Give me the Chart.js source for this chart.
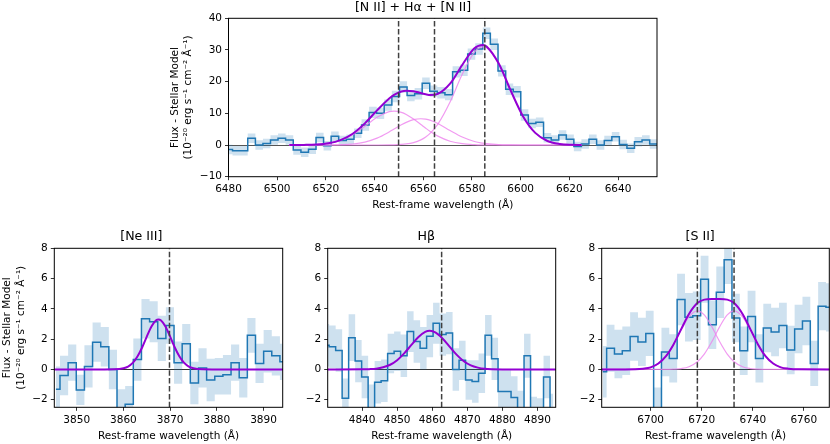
<!DOCTYPE html>
<html>
<head>
<meta charset="utf-8">
<script src="https://cdn.jsdelivr.net/npm/chart.js@4.4.0/dist/chart.umd.min.js"></script>
<style>
  html, body { margin: 0; padding: 0; background: #fff; }
  body { width: 830px; height: 444px; position: relative; overflow: hidden; }
  canvas { position: absolute; }
</style>
</head>
<body>
<canvas id="topPanel" width="492" height="213" style="left:169px;top:0px"></canvas>
<canvas id="neiiiPanel" width="287" height="215" style="left:0px;top:229px"></canvas>
<canvas id="hbPanel" width="263" height="215" style="left:297px;top:229px"></canvas>
<canvas id="siiPanel" width="259" height="215" style="left:571px;top:229px"></canvas>
<script>
// ---- [N II] + Halpha + [N II] ----
const topWave = [6480.1, 6483.2, 6486.3, 6489.5, 6492.6, 6495.7, 6498.8, 6501.9, 6505.0, 6508.2,
  6511.3, 6514.4, 6517.5, 6520.6, 6523.7, 6526.8, 6530.0, 6533.1, 6536.2, 6539.3,
  6542.4, 6545.5, 6548.7, 6551.8, 6554.9, 6558.0, 6561.1, 6564.2, 6567.3, 6570.5,
  6573.6, 6576.7, 6579.8, 6582.9, 6586.0, 6589.1, 6592.3, 6595.4, 6598.5, 6601.6,
  6604.7, 6607.8, 6611.0, 6614.1, 6617.2, 6620.3, 6623.4, 6626.5, 6629.6, 6632.8,
  6635.9, 6639.0, 6642.1, 6645.2, 6648.3, 6651.4, 6654.6, 6657.7];
const topFlux = [-1.4, -1.8, -1.8, 2.1, 0.0, 0.5, 1.6, 2.1, 1.6, -1.6,
  -2.3, -1.3, 2.4, -0.2, 2.8, 1.4, 1.8, 3.7, 6.3, 10.3,
  10.0, 12.6, 15.3, 18.3, 15.6, 16.2, 19.5, 17.0, 16.5, 15.9,
  23.1, 23.6, 28.7, 30.3, 35.3, 31.8, 23.4, 17.6, 16.8, 9.5,
  6.8, 7.2, 2.3, 1.6, 3.2, 1.8, -0.5, 0.3, 1.8, 0.0,
  1.4, 2.6, 0.2, -1.0, 1.0, 1.6, 0.3, 0.3];
const topErr = [1.5, 1.5, 1.5, 1.5, 1.5, 1.5, 1.5, 1.5, 1.5, 1.5,
  1.5, 1.5, 1.5, 1.5, 1.5, 1.5, 1.5, 1.5, 1.8, 1.8,
  1.8, 1.8, 1.8, 1.8, 1.8, 1.8, 1.8, 1.8, 1.8, 1.8,
  1.8, 1.8, 1.8, 1.8, 1.8, 1.8, 1.8, 1.8, 1.8, 1.8,
  1.5, 1.5, 1.5, 1.5, 1.5, 1.5, 1.5, 1.5, 1.5, 1.5,
  1.5, 1.5, 1.5, 1.5, 1.5, 1.5, 1.5, 1.5];
const topModelWave = [6505, 6511, 6516, 6521, 6526, 6531, 6536, 6541, 6546, 6548,
  6551, 6553, 6556, 6559, 6561, 6563, 6566, 6571, 6576, 6581,
  6584.5, 6586, 6591, 6596, 6601, 6606, 6611, 6616, 6621, 6625];
const topModel = [0, 0.04, 0.16, 0.55, 1.54, 3.56, 6.83, 10.92, 14.69, 15.80,
  16.87, 17.14, 17.00, 16.41, 16.03, 15.80, 16.15, 19.35, 25.27, 30.56,
  31.61, 31.13, 25.72, 17.04, 9.02, 3.82, 1.28, 0.34, 0.07, 0.02];
const nii6548Model = [0, 0.04, 0.16, 0.53, 1.45, 3.24, 5.90, 8.74, 10.52, 10.70,
  10.31, 9.65, 8.22, 6.49, 5.32, 4.22, 2.80, 1.20, 0.42, 0.12,
  0.04, 0.03, 0, 0, 0, 0, 0, 0, 0, 0];
const haModel = [0, 0, 0, 0.02, 0.09, 0.32, 0.93, 2.17, 4.13, 5.03,
  6.37, 7.15, 8.00, 8.30, 8.17, 7.77, 6.78, 4.58, 2.51, 1.12,
  0.57, 0.41, 0.12, 0.03, 0, 0, 0, 0, 0, 0];
const nii6583Model = [0, 0, 0, 0, 0, 0, 0, 0.01, 0.04, 0.07,
  0.19, 0.34, 0.78, 1.62, 2.54, 3.81, 6.57, 13.57, 22.34, 29.32,
  31.0, 30.69, 25.60, 17.01, 9.02, 3.82, 1.28, 0.34, 0.07, 0.02];
const topLines = [6549.86, 6564.61, 6585.27];
const topXRange = [6480, 6656];
const topYRange = [-10, 40];
const topXTicks = [6480, 6500, 6520, 6540, 6560, 6580, 6600, 6620, 6640];
const topYTicks = [-10, 0, 10, 20, 30, 40];

// ---- [Ne III] ----
const neWave = [3845.55, 3847.29, 3849.03, 3850.78, 3852.52, 3854.27, 3856.01, 3857.75, 3859.50, 3861.24,
  3862.99, 3864.73, 3866.47, 3868.22, 3869.96, 3871.71, 3873.45, 3875.19, 3876.94, 3878.68,
  3880.43, 3882.17, 3883.91, 3885.66, 3887.40, 3889.15, 3890.89, 3892.63, 3894.38];
const neFlux = [-1.3, -0.4, 0.45, -1.35, 0.2, 1.8, 1.5, 0.0, -2.8, -2.3,
  0.65, 3.35, 3.15, 2.05, 2.9, 0.45, 1.7, -0.9, 0.1, -0.7,
  -0.45, -0.35, 0.45, -0.55, 2.25, 0.4, 1.2, 0.9, 0.5];
const neErr = [1.5, 1.3, 1.2, 1.0, 1.4, 1.3, 1.3, 1.3, 1.5, 1.2,
  1.4, 1.3, 1.35, 1.5, 1.2, 1.4, 1.3, 1.4, 1.3, 1.4,
  1.2, 1.3, 1.2, 1.3, 1.15, 1.3, 1.4, 1.3, 1.2];
const neModelWave = [3845, 3856, 3858, 3860, 3861, 3862, 3863, 3864, 3865, 3866, 3867, 3867.5,
  3868, 3869, 3870, 3871, 3872, 3873, 3874, 3875, 3877, 3879, 3895];
const neModel = [0, 0, 0.01, 0.08, 0.19, 0.43, 0.85, 1.45, 2.17, 2.84, 3.25, 3.3,
  3.25, 2.84, 2.17, 1.45, 0.85, 0.43, 0.19, 0.08, 0.01, 0, 0];
const neLines = [3869.86];
const neXRange = [3845.2, 3894.1];
const neXTicks = [3850, 3860, 3870, 3880, 3890];

// ---- Hbeta ----
const hbWave = [4829.69, 4831.54, 4833.39, 4835.24, 4837.10, 4838.95, 4840.80, 4842.65, 4844.50, 4846.36,
  4848.21, 4850.06, 4851.91, 4853.76, 4855.62, 4857.47, 4859.32, 4861.17, 4863.02, 4864.88,
  4866.73, 4868.58, 4870.43, 4872.28, 4874.14, 4875.99, 4877.84, 4879.69, 4881.54, 4883.40,
  4885.25, 4887.10, 4888.95, 4890.80, 4892.66, 4894.51];
const hbFlux = [1.6, 1.5, 1.25, -1.9, 2.1, 0.55, -0.5, -2.6, -0.85, -0.75,
  1.05, 1.2, 0.9, 2.5, 1.85, 1.4, 2.2, 3.05, 2.3, 2.4,
  0.0, 0.6, -0.7, -0.8, -0.25, 2.25, 0.7, -1.45, -1.45, -1.85,
  -2.9, 0.9, -3.2, -3.3, -0.5, -3.0];
const hbErr = [1.4, 1.4, 1.4, 1.3, 1.55, 1.4, 1.4, 1.6, 1.4, 1.4,
  1.3, 1.3, 1.4, 1.35, 1.4, 1.4, 1.4, 1.35, 1.4, 1.4,
  1.4, 1.3, 1.3, 1.4, 1.3, 1.35, 1.4, 1.4, 1.4, 1.4,
  1.5, 1.45, 1.4, 1.4, 1.4, 1.4];
const hbModelWave = [4830, 4840, 4842, 4844, 4846, 4848, 4850, 4852, 4854, 4856, 4858, 4859.3,
  4861, 4863, 4865, 4867, 4869, 4871, 4873, 4875, 4877, 4880, 4896];
const hbModel = [0, 0.01, 0.02, 0.05, 0.14, 0.31, 0.61, 1.06, 1.60, 2.13, 2.48, 2.55,
  2.43, 2.03, 1.49, 0.96, 0.54, 0.27, 0.12, 0.04, 0.01, 0, 0];
const hbLines = [4862.68];
const hbXRange = [4830.2, 4895.2];
const hbXTicks = [4840, 4850, 4860, 4870, 4880, 4890];

// ---- [S II] ----
const siiWave = [6681.20, 6684.27, 6687.34, 6690.41, 6693.48, 6696.55, 6699.62, 6702.69, 6705.76, 6708.83,
  6711.90, 6714.97, 6718.04, 6721.11, 6724.18, 6727.25, 6730.32, 6733.39, 6736.46, 6739.53,
  6742.60, 6745.67, 6748.74, 6751.81, 6754.88, 6757.95, 6761.02, 6764.09, 6767.16, 6770.23];
const siiFlux = [-0.15, 1.4, 1.02, 1.24, 2.18, 1.82, 2.38, -3.0, 1.15, 0.73,
  4.62, 3.45, 3.55, 5.95, 2.95, 5.1, 7.25, 3.4, 1.24, 3.5,
  0.73, 2.73, 2.47, 2.9, 1.29, 2.67, 3.2, 0.4, 4.18, 4.1];
const siiErr = [1.7, 1.55, 1.6, 1.6, 1.6, 1.6, 1.5, 1.8, 1.6, 1.6,
  1.7, 1.6, 1.6, 1.55, 1.6, 1.7, 1.6, 1.6, 1.6, 1.7,
  1.6, 1.6, 1.6, 1.5, 1.6, 1.6, 1.6, 1.5, 1.6, 1.6];
const siiModelWave = [6680, 6690, 6694, 6697, 6700, 6703, 6706, 6709, 6712, 6715, 6718.3, 6721, 6724,
  6725.5, 6727, 6730, 6732.7, 6736, 6739, 6742, 6745, 6748, 6751, 6754, 6758, 6771];
const siiModel = [0, 0, 0.01, 0.05, 0.14, 0.39, 0.88, 1.67, 2.68, 3.66, 4.38, 4.61, 4.65,
  4.65, 4.65, 4.61, 4.38, 3.66, 2.68, 1.67, 0.88, 0.39, 0.14, 0.05, 0.01, 0];
const sii6716Model = [0, 0, 0.01, 0.05, 0.14, 0.39, 0.88, 1.65, 2.62, 3.48, 3.87, 3.60, 2.81,
  2.33, 1.84, 1.01, 0.51, 0.18, 0.06, 0.02, 0, 0, 0, 0, 0, 0];
const sii6731Model = [0, 0, 0, 0, 0, 0, 0, 0.02, 0.06, 0.18, 0.51, 1.01, 1.84,
  2.33, 2.81, 3.60, 3.87, 3.48, 2.62, 1.65, 0.88, 0.39, 0.14, 0.05, 0.01, 0];
const siiLines = [6718.29, 6732.67];
const siiXRange = [6680.8, 6770.0];
const siiXTicks = [6700, 6720, 6740, 6760];

const lowYRange = [-2.5, 8];
const lowYTicks = [-2, 0, 2, 4, 6, 8];

const yTitleLines = ['Flux - Stellar Model', '(10\u207b\u00b2\u2070 erg s\u207b\u00b9 cm\u207b\u00b2 \u00c5\u207b\u00b9)'];

Chart.defaults.font.family = '"DejaVu Sans", sans-serif';
Chart.defaults.font.size = 10.5;
Chart.defaults.color = '#000';
Chart.defaults.animation = false;

function pairs(xs, ys) {
  return xs.map(function (x, i) { return { x: x, y: ys[i] }; });
}

function fmtTick(v) {
  return v < 0 ? '\u2212' + Math.abs(v) : String(v);
}

// black box around the axes, like matplotlib spines
const framePlugin = {
  id: 'frame',
  afterDatasetsDraw(chart) {
    const a = chart.chartArea;
    const ctx = chart.ctx;
    ctx.save();
    ctx.strokeStyle = '#000';
    ctx.lineWidth = 1;
    ctx.strokeRect(a.left, a.top, a.right - a.left, a.bottom - a.top);
    ctx.restore();
  }
};

function drawPanel(id, p) {
  const datasets = [];
  p.lines.forEach(function (w) {
    datasets.push({
      data: [{ x: w, y: p.yRange[0] }, { x: w, y: p.yRange[1] }],
      borderColor: '#404040', borderWidth: 1.5, borderDash: [5.5, 2.4],
      pointRadius: 0, order: 0
    });
  });
  datasets.push({
    data: pairs(p.modelWave, p.model),
    borderColor: '#9400d3', borderWidth: 2, pointRadius: 0,
    cubicInterpolationMode: 'monotone', order: 1
  });
  (p.comps || []).forEach(function (c) {
    datasets.push({
      data: pairs(p.modelWave, c),
      borderColor: 'rgba(238,130,238,0.8)', borderWidth: 1.2, pointRadius: 0,
      cubicInterpolationMode: 'monotone', order: 2
    });
  });
  datasets.push({
    data: pairs(p.wave, p.flux),
    borderColor: '#1f77b4', borderWidth: 1.5, pointRadius: 0,
    stepped: 'middle', order: 3
  });
  // error band: upper edge, then lower edge filled up to it
  datasets.push({
    data: pairs(p.wave, p.flux.map(function (f, i) { return f + p.err[i]; })),
    borderColor: 'rgba(0,0,0,0)', borderWidth: 0, pointRadius: 0,
    stepped: 'middle', fill: false, order: 4
  });
  datasets.push({
    data: pairs(p.wave, p.flux.map(function (f, i) { return f - p.err[i]; })),
    borderColor: 'rgba(0,0,0,0)', borderWidth: 0, pointRadius: 0,
    stepped: 'middle', fill: '-1', backgroundColor: 'rgba(31,119,180,0.22)', order: 5
  });

  new Chart(document.getElementById(id), {
    type: 'line',
    data: { datasets: datasets },
    plugins: [framePlugin],
    options: {
      responsive: false,
      animation: false,
      layout: { autoPadding: false, padding: { left: 0, right: p.padRight, top: 0, bottom: 0 } },
      plugins: {
        legend: { display: false },
        tooltip: { enabled: false },
        title: {
          display: true, text: p.title, color: '#000',
          font: { size: 12.6, weight: 'normal', lineHeight: 1.2 },
          padding: { top: 0, bottom: p.titlePad }
        }
      },
      scales: {
        x: {
          type: 'linear', min: p.xRange[0], max: p.xRange[1],
          afterBuildTicks: function (s) { s.ticks = p.xTicks.map(function (v) { return { value: v }; }); },
          afterFit: function (s) { s.height = p.xAxisH; },
          border: { display: false },
          grid: { drawOnChartArea: false, tickLength: 3.5, tickColor: '#000', tickWidth: 0.8 },
          ticks: { callback: fmtTick, padding: 3, maxRotation: 0, autoSkip: false, color: '#000' },
          title: {
            display: true, text: 'Rest-frame wavelength (\u00c5)', color: '#000',
            font: { size: 10.5, lineHeight: 1.2 }, padding: { top: 0, bottom: 1.5 }
          }
        },
        y: {
          type: 'linear', min: p.yRange[0], max: p.yRange[1],
          afterBuildTicks: function (s) { s.ticks = p.yTicks.map(function (v) { return { value: v }; }); },
          afterFit: function (s) { s.width = p.yAxisW; },
          border: { display: false },
          grid: {
            color: function (c) { return c.tick && c.tick.value === 0 ? p.zeroColor : 'rgba(0,0,0,0)'; },
            lineWidth: 1, tickLength: 3.5, tickColor: '#000', tickWidth: 0.8
          },
          ticks: { callback: fmtTick, padding: 3, autoSkip: false, color: '#000' },
          title: p.yTitle ? {
            display: true, text: yTitleLines, color: '#000',
            font: { size: 10.5, lineHeight: 1.25 }, padding: { top: p.yTitlePad, bottom: 0 }
          } : { display: false }
        }
      }
    }
  });
}

drawPanel('topPanel', {
  title: '[N II] + H\u03b1 + [N II]',
  wave: topWave, flux: topFlux, err: topErr,
  modelWave: topModelWave, model: topModel, comps: [nii6548Model, haModel, nii6583Model],
  lines: topLines, xRange: topXRange, yRange: topYRange, xTicks: topXTicks, yTicks: topYTicks,
  yAxisW: 59.5, xAxisH: 36.3, padRight: 4, titlePad: 3.18, yTitle: true, yTitlePad: 0, zeroColor: '#555'
});
drawPanel('neiiiPanel', {
  title: '[Ne III]',
  wave: neWave, flux: neFlux, err: neErr,
  modelWave: neModelWave, model: neModel,
  lines: neLines, xRange: neXRange, yRange: lowYRange, xTicks: neXTicks, yTicks: lowYTicks,
  yAxisW: 54.3, xAxisH: 36.7, padRight: 4.3, titlePad: 4.18, yTitle: true, yTitlePad: 1.1, zeroColor: '#333'
});
drawPanel('hbPanel', {
  title: 'H\u03b2',
  wave: hbWave, flux: hbFlux, err: hbErr,
  modelWave: hbModelWave, model: hbModel,
  lines: hbLines, xRange: hbXRange, yRange: lowYRange, xTicks: hbXTicks, yTicks: lowYTicks,
  yAxisW: 30.7, xAxisH: 36.7, padRight: 4.3, titlePad: 4.18, yTitle: false, zeroColor: '#333'
});
drawPanel('siiPanel', {
  title: '[S II]',
  wave: siiWave, flux: siiFlux, err: siiErr,
  modelWave: siiModelWave, model: siiModel, comps: [sii6716Model, sii6731Model],
  lines: siiLines, xRange: siiXRange, yRange: lowYRange, xTicks: siiXTicks, yTicks: lowYTicks,
  yAxisW: 30.7, xAxisH: 36.7, padRight: 0.7, titlePad: 4.18, yTitle: false, zeroColor: '#333'
});
</script>
</body>
</html>
